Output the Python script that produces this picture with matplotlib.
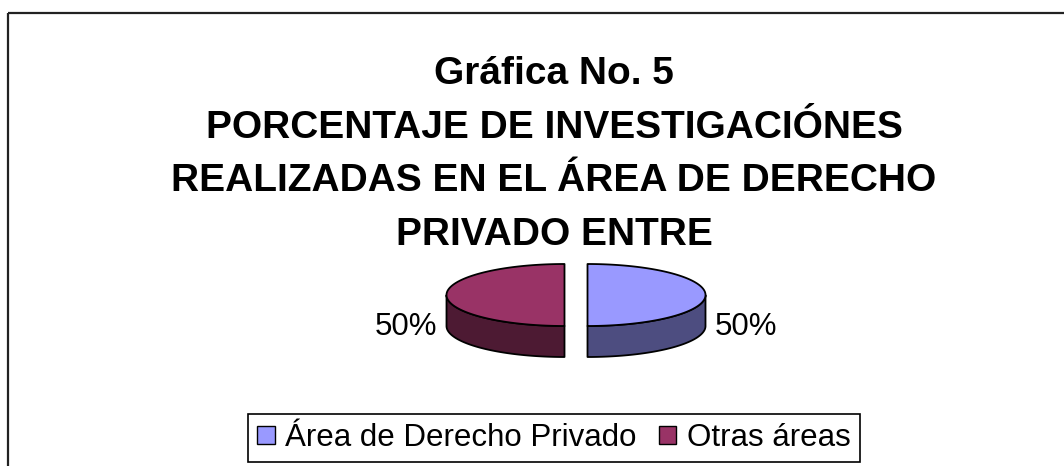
import numpy as np
import matplotlib
matplotlib.use("Agg")
import matplotlib.pyplot as plt
from matplotlib.patches import Polygon, Rectangle, Patch

plt.rcParams['font.family'] = ['Liberation Sans', 'DejaVu Sans']

title_lines = ["Gráfica No. 5",
               "PORCENTAJE DE INVESTIGACIÓNES",
               "REALIZADAS EN EL ÁREA DE DERECHO",
               "PRIVADO ENTRE"]
labels = ["Área de Derecho Privado", "Otras áreas"]
values = [50, 50]
top_colors = ["#9999FF", "#993366"]
side_colors = ["#4D4D80", "#4D1A33"]

W, H = 1064, 466
fig = plt.figure(figsize=(W / 100, H / 100), dpi=100)
ax = fig.add_axes([0, 0, 1, 1])
ax.set_xlim(0, W)
ax.set_ylim(H, 0)
ax.axis('off')

# outer chart border (right/bottom edges fall outside the picture)
ax.add_patch(Rectangle((8, 13), 1200, 600, fill=False, ec='#222222', lw=1.6))

# title, one line at a time (baselines)
title_y = [84, 138, 191, 245]
for txt, y in zip(title_lines, title_y):
    ax.text(554, y, txt, ha='center', va='baseline', fontsize=28,
            fontweight='bold')

# 3d-looking pie
cx, cy = 576, 295
rx, ry = 118, 31
depth = 31
explode = 11.5
total = float(sum(values))
cum = 0.0
for v, ctop, cside in zip(values, top_colors, side_colors):
    t1 = 90 - 360 * cum / total
    t2 = 90 - 360 * (cum + v) / total
    cum += v
    mid = np.radians((t1 + t2) / 2)
    ox = explode * np.cos(mid)
    oy = -explode * np.sin(mid) * ry / rx
    th = np.radians(np.linspace(t1, t2, 300))
    xs = cx + ox + rx * np.cos(th)
    ys = cy + oy - ry * np.sin(th)

    front = np.sin(th) <= 1e-9
    if front.any():
        fx, fy = xs[front], ys[front]
        side = np.column_stack([np.r_[fx, fx[::-1]], np.r_[fy, fy[::-1] + depth]])
        ax.add_patch(Polygon(side, closed=True, fc=cside, ec='black', lw=1.3,
                             joinstyle='round'))

    top = np.column_stack([np.r_[cx + ox, xs], np.r_[cy + oy, ys]])
    ax.add_patch(Polygon(top, closed=True, fc=ctop, ec='black', lw=1.3,
                         joinstyle='round'))

    lx = cx + ox + (rx + 9) * np.cos(mid)
    ax.text(lx, cy + depth + 1, "%.0f%%" % (v / total * 100),
            ha='left' if np.cos(mid) > 0 else 'right', va='center', fontsize=22.5)

handles = [Patch(fc=c, ec='black', lw=1) for c in top_colors]
leg = ax.legend(handles, labels, loc='center', ncol=2,
                bbox_to_anchor=(554 / W, 1 - 438 / H), fontsize=22.5,
                frameon=True, fancybox=False, framealpha=1, edgecolor='black',
                handlelength=0.55, handleheight=0.55, handletextpad=0.35,
                columnspacing=0.7, borderpad=0.3, borderaxespad=0)
leg.get_frame().set_linewidth(1.2)

fig.savefig("out.png", dpi=100)
